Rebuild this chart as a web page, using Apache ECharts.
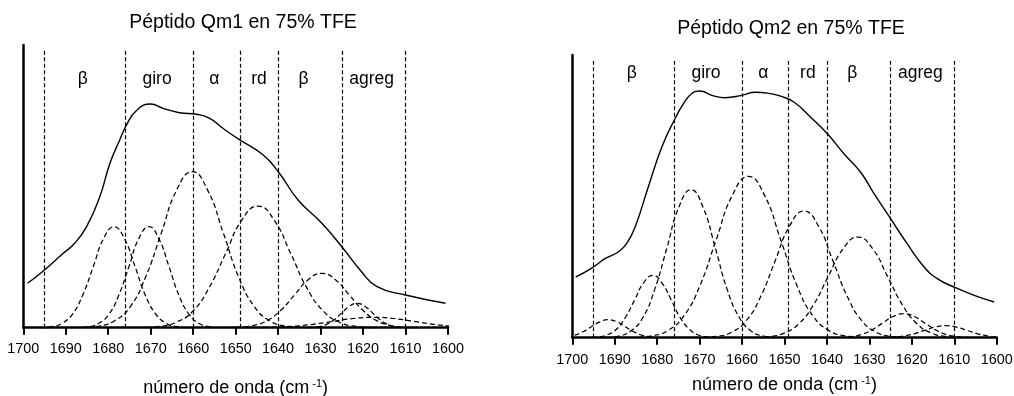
<!DOCTYPE html>
<html>
<head>
<meta charset="utf-8">
<script src="https://cdn.jsdelivr.net/npm/echarts@6/dist/echarts.min.js"></script>
<style>html,body{margin:0;padding:0;background:#fff}#c{width:1014px;height:396px}</style>
</head>
<body>
<div id="c"></div>
<script>
// ---- data (wavenumber cm-1, absorbance in arbitrary units) ----
const titles = ['Péptido Qm1 en 75% TFE', 'Péptido Qm2 en 75% TFE'];
const xAxisName = 'número de onda (cm{sup| -1})';
const regionBounds = [1695, 1676, 1660, 1649, 1640, 1625, 1610];
const regionNames = ['β', 'giro', 'α', 'rd', 'β', 'agreg'];
const regionLabelWn = [1686, 1668.5, 1655, 1644.5, 1634, 1618];

// Qm1 measured band
const qm1Band = [[1699.0,44.4],[1695.5,56],[1690.6,74.4],[1687.9,84.4],[1685.1,101],[1682.0,131],[1679.6,164.4],[1677.3,187.7],[1675.7,202.7],[1673.4,217],[1670.0,223.7],[1667.1,219.4],[1663.2,215],[1659.2,213.4],[1656.1,209.4],[1653.0,199.4],[1649.3,188.5],[1643.5,172.7],[1639.7,154.4],[1635.3,127.7],[1629.7,104.4],[1625.0,81],[1620.7,57.7],[1616.7,41],[1610.0,32.7],[1600.6,24.4]];
// Qm1 fitted components
const qm1C1 = [[1661.5,0.2],[1663.9,1.1],[1666.4,4.4],[1668.8,13.6],[1671.3,32.8],[1673.7,61.3],[1676.2,89.1],[1678.6,101],[1681.1,89.1],[1683.5,61.3],[1686.0,32.8],[1688.4,13.6],[1690.9,4.4],[1693.3,1.1],[1695.8,0.2]];
const qm1C2 = [[1654.0,0.2],[1656.3,1.1],[1658.7,4.4],[1661.0,13.6],[1663.4,32.8],[1665.7,61.3],[1668.1,89.1],[1670.4,101],[1672.8,89.1],[1675.1,61.3],[1677.5,32.8],[1679.8,13.6],[1682.2,4.4],[1684.5,1.1],[1686.9,0.2]];
const qm1C3 = [[1634.7,0.3],[1638.3,1.7],[1642.0,6.9],[1645.6,21.1],[1649.3,50.7],[1652.9,94.7],[1656.6,137.6],[1660.2,156],[1663.9,137.6],[1667.5,94.7],[1671.2,50.7],[1674.8,21.1],[1678.5,6.9],[1682.1,1.7],[1685.8,0.3]];
const qm1C4 = [[1617.8,0.2],[1621.6,1.3],[1625.5,5.4],[1629.3,16.4],[1633.2,39.6],[1637.0,73.9],[1640.9,107.3],[1644.7,121.7],[1648.6,107.3],[1652.4,73.9],[1656.3,39.6],[1660.1,16.4],[1664.0,5.4],[1667.8,1.3],[1671.7,0.2]];
const qm1C5 = [[1607.3,0.1],[1610.5,0.6],[1613.7,2.4],[1616.9,7.3],[1620.1,17.7],[1623.3,33.0],[1626.5,48.0],[1629.7,54.4],[1632.9,48.0],[1636.1,33.0],[1639.3,17.7],[1642.5,7.3],[1645.7,2.4],[1648.9,0.6],[1652.1,0.1]];
const qm1C6 = [[1608.8,0.05],[1610.6,0.3],[1612.4,1.1],[1614.2,3.3],[1616.0,7.9],[1617.8,14.8],[1619.6,21.5],[1621.4,24.4],[1623.2,21.5],[1625.0,14.8],[1626.8,7.9],[1628.6,3.3],[1630.4,1.1],[1632.2,0.3],[1634.0,0.05]];
const qm1C7 = [[1584.3,0],[1589.0,0.1],[1593.3,0.5],[1598.5,1.4],[1603.3,3.4],[1608.0,6.3],[1612.8,9.2],[1617.5,10.4],[1622.3,9.2],[1627.0,6.3],[1631.8,3.4],[1636.5,1.4],[1641.3,0.5],[1646.0,0.1],[1650.8,0]];

// Qm2 measured band
const qm2Band = [[1699.2,60.7],[1695.6,69],[1692.3,79],[1689.2,85.7],[1687.2,94],[1685.2,110.7],[1682.1,150.7],[1678.9,190.7],[1675.8,219],[1673.8,234],[1671.9,244],[1669.9,246.7],[1667.1,242.3],[1664.0,240],[1660.1,242.3],[1656.9,245.5],[1653.0,243.8],[1650.9,241.5],[1647.8,235.7],[1643.9,220.7],[1639.9,204],[1636.0,184],[1632.1,165.7],[1628.9,144],[1625.0,119],[1621.1,94],[1617.1,70.7],[1614.0,59],[1610.1,50.7],[1605.3,42.3],[1600.6,35.7]];
// Qm2 fitted components
const qm2C1 = [[1677.5,0],[1679.5,0.2],[1681.5,0.8],[1683.5,2.4],[1685.5,5.9],[1687.5,10.9],[1689.5,15.9],[1691.5,18],[1693.5,15.9],[1695.5,10.9],[1697.5,5.9],[1699.5,2.4],[1701.5,0.8],[1703.5,0.2],[1705.5,0]];
const qm2C2 = [[1666.0,0.1],[1668.1,0.7],[1670.3,2.7],[1672.4,8.4],[1674.6,20.2],[1676.7,37.8],[1678.9,54.9],[1681.0,62.3],[1683.2,54.9],[1685.3,37.8],[1687.5,20.2],[1689.6,8.4],[1691.8,2.7],[1693.9,0.7],[1696.1,0.1]];
const qm2C3 = [[1652.1,0.3],[1654.9,1.6],[1657.8,6.5],[1660.6,20],[1663.5,48.1],[1666.3,89.8],[1669.2,130.5],[1672.0,148],[1674.9,130.5],[1677.7,89.8],[1680.6,48.1],[1683.4,20],[1686.3,6.5],[1689.1,1.6],[1692.0,0.3]];
const qm2C4 = [[1631.9,0.3],[1635.7,1.8],[1639.5,7.1],[1643.3,21.8],[1647.1,52.4],[1650.9,97.9],[1654.7,142.3],[1658.5,161.3],[1662.3,142.3],[1666.1,97.9],[1669.9,52.4],[1673.7,21.8],[1677.5,7.1],[1681.3,1.8],[1685.1,0.3]];
const qm2C5 = [[1621.6,0.3],[1625.0,1.4],[1628.4,5.6],[1631.8,17.1],[1635.2,41.2],[1638.6,76.9],[1642.0,111.7],[1645.4,126.7],[1648.8,111.7],[1652.2,76.9],[1655.6,41.2],[1659.0,17.1],[1662.4,5.6],[1665.8,1.4],[1669.2,0.3]];
const qm2C6 = [[1608.2,0.2],[1611.7,1.1],[1615.2,4.4],[1618.7,13.6],[1622.2,32.7],[1625.7,61.1],[1629.2,88.8],[1632.7,100.7],[1636.2,88.8],[1639.7,61.1],[1643.2,32.7],[1646.7,13.6],[1650.2,4.4],[1653.7,1.1],[1657.2,0.2]];
const qm2C7 = [[1604.4,0],[1606.9,0.3],[1609.4,1.1],[1611.9,3.2],[1614.4,7.8],[1616.9,14.6],[1619.4,21.2],[1621.9,24],[1624.4,21.2],[1626.9,14.6],[1629.4,7.8],[1631.9,3.2],[1634.4,1.1],[1636.9,0.3],[1639.4,0]];
const qm2C8 = [[1594.5,0],[1597.0,0.1],[1599.5,0.5],[1602.0,1.6],[1604.5,3.9],[1607.0,7.3],[1609.5,10.6],[1612.0,12],[1614.5,10.6],[1617.0,7.3],[1619.5,3.9],[1622.0,1.6],[1624.5,0.5],[1627.0,0.1],[1629.5,0]];

// ---- chart ----
const FONT = '"Liberation Sans", Arial, sans-serif';
const chart = echarts.init(document.getElementById('c'), null, {renderer: 'canvas'});

const grids = [
  {left: 23.3, top: 45, width: 424.7, height: 282.7, outerBoundsMode: 'none', containLabel: false},
  {left: 572.3, top: 55, width: 424.4, height: 282.7, outerBoundsMode: 'none', containLabel: false}
];
const nameGaps = [51, 38];
const labelMargins = [14, 15];
const bandTop = [277.7, 276.7];
const labelY = [249, 264.7];

function xAxisFor(i) {
  return {
    gridIndex: i, type: 'value', min: 1600, max: 1700, interval: 10, inverse: true,
    name: xAxisName, nameLocation: 'middle', nameGap: nameGaps[i],
    nameTextStyle: {fontFamily: FONT, fontSize: 18, color: '#000',
      rich: {sup: {fontFamily: FONT, fontSize: 11, color: '#000', verticalAlign: 'top', padding: [0, 0, 8, 0]}}},
    axisLine: {show: true, onZero: false, lineStyle: {color: '#000', width: 2.5}},
    axisTick: {show: true, inside: false, length: 7, lineStyle: {color: '#000', width: 2}},
    axisLabel: {show: true, margin: labelMargins[i], fontFamily: FONT, fontSize: 14.4, color: '#000',
      formatter: v => String(v), showMinLabel: true, showMaxLabel: true, hideOverlap: false},
    splitLine: {show: false}, minorTick: {show: false}
  };
}
function yAxisFor(i) {
  return {
    gridIndex: i, type: 'value', min: 0, max: 282.7,
    axisLine: {show: true, lineStyle: {color: '#000', width: 2.5}},
    axisTick: {show: false}, axisLabel: {show: false}, splitLine: {show: false}
  };
}
function compSeries(i, data) {
  return {type: 'line', xAxisIndex: i, yAxisIndex: i, data: data, smooth: 0.5, showSymbol: false, symbol: 'none',
    clip: true, silent: true, lineStyle: {color: '#000', width: 1.25, type: [5, 3]}, z: 3};
}
function bandSeries(i, data) {
  return {type: 'line', xAxisIndex: i, yAxisIndex: i, data: data, smooth: 0.5, showSymbol: false, symbol: 'none',
    clip: true, silent: true, lineStyle: {color: '#000', width: 1.4, type: 'solid'}, z: 4,
    markLine: {silent: true, symbol: ['none', 'none'], label: {show: false}, animation: false,
      lineStyle: {color: '#000', width: 1.2, type: [4, 2.5]},
      data: regionBounds.map(b => [{coord: [b, 0]}, {coord: [b, bandTop[i]]}])}};
}
function labelSeries(i) {
  return {type: 'scatter', xAxisIndex: i, yAxisIndex: i, symbolSize: 1, silent: true,
    itemStyle: {color: 'rgba(255,255,255,0)', opacity: 1},
    data: regionNames.map((n, k) => ({name: n, value: [regionLabelWn[k], labelY[i]]})),
    label: {show: true, position: 'inside', formatter: p => p.name, fontFamily: FONT, fontSize: 17.5,
      color: '#000', opacity: 1, textBorderWidth: 0}, z: 5};
}

const series = [
  bandSeries(0, qm1Band),
  ...[qm1C1, qm1C2, qm1C3, qm1C4, qm1C5, qm1C6, qm1C7].map(d => compSeries(0, d)),
  labelSeries(0),
  bandSeries(1, qm2Band),
  ...[qm2C1, qm2C2, qm2C3, qm2C4, qm2C5, qm2C6, qm2C7, qm2C8].map(d => compSeries(1, d)),
  labelSeries(1)
];

chart.setOption({
  animation: false,
  backgroundColor: '#fff',
  textStyle: {fontFamily: FONT},
  grid: grids,
  xAxis: [xAxisFor(0), xAxisFor(1)],
  yAxis: [yAxisFor(0), yAxisFor(1)],
  graphic: [
    {type: 'text', x: 243, y: 23, style: {text: titles[0], font: '19.5px ' + FONT, fill: '#000', textAlign: 'center', textVerticalAlign: 'middle'}},
    {type: 'text', x: 791, y: 29, style: {text: titles[1], font: '19.5px ' + FONT, fill: '#000', textAlign: 'center', textVerticalAlign: 'middle'}}
  ],
  series: series
});
</script>
</body>
</html>
